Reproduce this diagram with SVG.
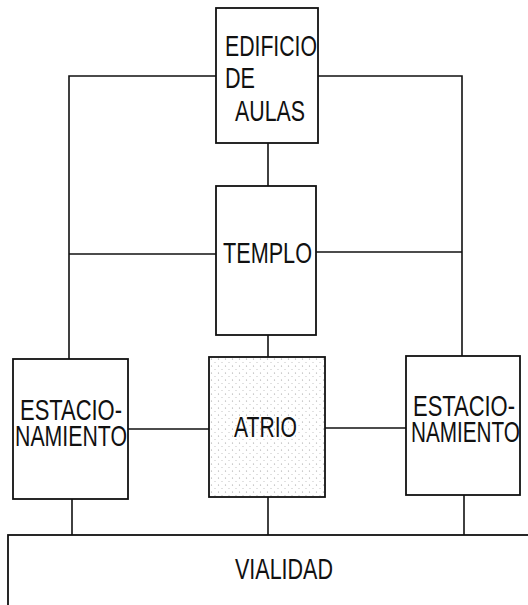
<svg xmlns="http://www.w3.org/2000/svg" width="528" height="605" viewBox="0 0 528 605">
<style>
.box{fill:#ffffff;stroke:#111;stroke-width:1.8}
.line{stroke:#111;stroke-width:1.6;fill:none}
.t{font-family:"Liberation Sans",Arial,sans-serif;font-size:29px;fill:#111}
</style>
<defs>
<pattern id="dots" width="7" height="7" patternUnits="userSpaceOnUse">
<rect width="7" height="7" fill="#ffffff"/>
<circle cx="1.5" cy="2" r="0.6" fill="#9a9a9a"/>
<circle cx="5" cy="5.5" r="0.5" fill="#b0b0b0"/>
</pattern>
</defs>
<rect width="528" height="605" fill="#ffffff"/>
<g id="connectors">
<path class="line" d="M216 76 H69 V359"/>
<path class="line" d="M318 76 H462 V356"/>
<path class="line" d="M268 143 V186"/>
<path class="line" d="M69 254 H216"/>
<path class="line" d="M316 252 H462"/>
<path class="line" d="M268 335 V357"/>
<path class="line" d="M128 429 H209"/>
<path class="line" d="M325 428 H406"/>
<path class="line" d="M72 499 V535"/>
<path class="line" d="M268 497 V535"/>
<path class="line" d="M464 495 V535"/>
</g>
<g id="edificio">
<rect class="box" x="216" y="8" width="102" height="135"/>
<text class="t" x="225" y="56" textLength="92" lengthAdjust="spacingAndGlyphs">EDIFICIO</text>
<text class="t" x="225" y="88" textLength="30" lengthAdjust="spacingAndGlyphs">DE</text>
<text class="t" x="235" y="121" textLength="70" lengthAdjust="spacingAndGlyphs">AULAS</text>
</g>
<g id="templo">
<rect class="box" x="216" y="186" width="100" height="149"/>
<text class="t" x="223" y="263" textLength="89" lengthAdjust="spacingAndGlyphs">TEMPLO</text>
</g>
<g id="estacionamiento-izq">
<rect class="box" x="13" y="359" width="115" height="140"/>
<text class="t" x="20" y="420" textLength="102" lengthAdjust="spacingAndGlyphs">ESTACIO-</text>
<text class="t" x="15" y="446" textLength="112" lengthAdjust="spacingAndGlyphs">NAMIENTO</text>
</g>
<g id="atrio">
<rect class="box" x="209" y="357" width="116" height="140" style="fill:url(#dots)"/>
<text class="t" x="234" y="437" textLength="63" lengthAdjust="spacingAndGlyphs">ATRIO</text>
</g>
<g id="estacionamiento-der">
<rect class="box" x="406" y="356" width="114" height="139"/>
<text class="t" x="413" y="416" textLength="102" lengthAdjust="spacingAndGlyphs">ESTACIO-</text>
<text class="t" x="411" y="442" textLength="109" lengthAdjust="spacingAndGlyphs">NAMIENTO</text>
</g>
<g id="vialidad">
<rect class="box" x="8" y="535" width="530" height="80"/>
<text class="t" x="235" y="579" textLength="98" lengthAdjust="spacingAndGlyphs">VIALIDAD</text>
</g>
</svg>
